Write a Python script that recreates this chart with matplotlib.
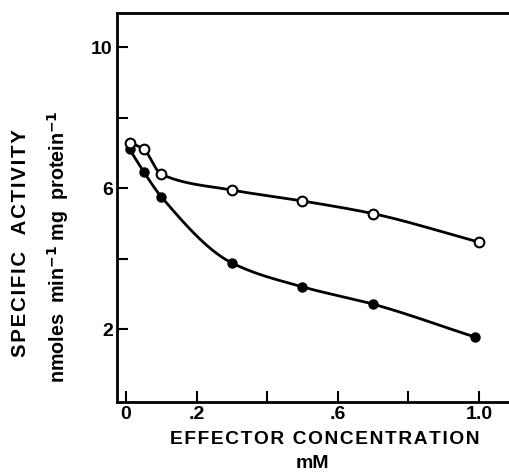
import matplotlib
matplotlib.use("Agg")
import matplotlib.pyplot as plt
import numpy as np

plt.rcParams['font.family'] = ['Liberation Sans', 'DejaVu Sans']

# effector concentration (mM)
conc_open = [0.01, 0.05, 0.10, 0.30, 0.50, 0.70, 1.00]
act_open = [7.30, 7.11, 6.40, 5.95, 5.64, 5.28, 4.47]
conc_filled = [0.01, 0.05, 0.10, 0.30, 0.50, 0.70, 0.99]
act_filled = [7.11, 6.47, 5.76, 3.88, 3.20, 2.71, 1.77]

x_ticks = [0, 0.2, 0.4, 0.6, 0.8, 1.0]
x_labels = ["0", ".2", "", ".6", "", "1.0"]
y_ticks = [2, 4, 6, 8, 10]
y_labels = ["2", "", "6", "", "10"]


def pchip(x, y, n=200):
    # monotone cubic through the points, only used to draw a smooth line
    x = np.asarray(x, float)
    y = np.asarray(y, float)
    h = np.diff(x)
    d = np.diff(y) / h
    m = np.zeros_like(y)
    for i in range(1, len(x) - 1):
        if d[i - 1] * d[i] > 0:
            w1 = 2 * h[i] + h[i - 1]
            w2 = h[i] + 2 * h[i - 1]
            m[i] = (w1 + w2) / (w1 / d[i - 1] + w2 / d[i])
    m[0] = d[0]
    m[-1] = d[-1]
    xs = np.linspace(x[0], x[-1], n)
    k = np.clip(np.searchsorted(x, xs) - 1, 0, len(x) - 2)
    t = (xs - x[k]) / h[k]
    h00 = 2 * t**3 - 3 * t**2 + 1
    h10 = t**3 - 2 * t**2 + t
    h01 = -2 * t**3 + 3 * t**2
    h11 = t**3 - t**2
    ys = h00 * y[k] + h10 * h[k] * m[k] + h01 * y[k + 1] + h11 * h[k] * m[k + 1]
    return xs, ys


def spaced(s):
    return "\u200a".join(s)


def fit(t, length, vertical=False):
    # shrink/grow the font until the text spans `length` pixels
    r = fig.canvas.get_renderer()
    for _ in range(3):
        bb = t.get_window_extent(r)
        cur = bb.height if vertical else bb.width
        t.set_fontsize(t.get_fontsize() * length / cur)


fig = plt.figure(figsize=(5.09, 4.75), dpi=100)
ax = fig.add_axes([117 / 509, 1 - 402 / 475, 1 - 117 / 509, (402 - 13) / 475])

xs, ys = pchip(conc_filled, act_filled)
ax.plot(xs, ys, color="black", lw=2)
ax.plot(conc_filled, act_filled, "o", ms=6.5, mfc="black", mec="black", zorder=3)

xs, ys = pchip(conc_open, act_open)
ax.plot(xs, ys, color="black", lw=2)
ax.plot(conc_open, act_open, "o", ms=7, mfc="white", mec="black", mew=1.5, zorder=4)

ax.set_xlim(-0.0255, 1.085)
ax.set_ylim(-0.07, 10.98)
ax.set_xticks(x_ticks)
ax.set_xticklabels(x_labels)
ax.set_yticks(y_ticks)
ax.set_yticklabels(y_labels)
ax.tick_params(direction="in", length=8, width=1.5, labelsize=14, pad=3)
for lab in ax.get_xticklabels() + ax.get_yticklabels():
    lab.set_fontweight("bold")
ax.spines["right"].set_visible(False)
for s in ["left", "bottom", "top"]:
    ax.spines[s].set_linewidth(2)

t1 = fig.text(325 / 509, 1 - 440 / 475, spaced("EFFECTOR CONCENTRATION"),
              ha="center", va="center", fontsize=13, fontweight="bold")
fit(t1, 310)
fig.text(312 / 509, 1 - 463 / 475, "mM", ha="center", va="center",
         fontsize=14, fontweight="bold")
t2 = fig.text(21 / 509, 1 - 243 / 475, spaced("SPECIFIC  ACTIVITY"),
              ha="center", va="center", rotation=90, fontsize=13, fontweight="bold")
fit(t2, 227, vertical=True)
t3 = fig.text(58 / 509, 1 - 247 / 475,
              r"nmoles  min$^{\mathbf{-1}}$ mg  protein$^{\mathbf{-1}}$",
              ha="center", va="center", rotation=90, fontsize=13, fontweight="bold")
fit(t3, 272, vertical=True)

fig.savefig("out.png", dpi=100)
